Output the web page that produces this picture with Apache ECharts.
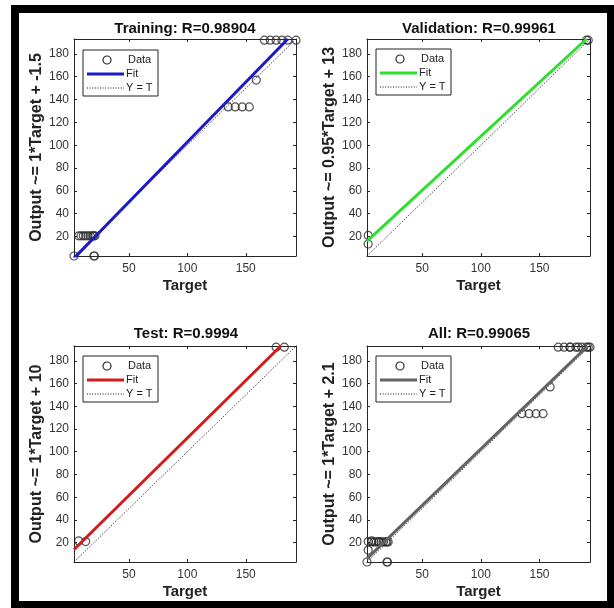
<!DOCTYPE html>
<html><head><meta charset="utf-8">
<script src="https://cdn.jsdelivr.net/npm/echarts@6/dist/echarts.min.js"></script>
<style>html,body{margin:0;padding:0;background:#fff}#c{width:614px;height:608px}</style>
</head><body><div id="c"></div>
<script>
// ---------- data ----------
const axisLimits = [3, 193];
const xTickValues = [50, 100, 150];
const yTickValues = [20, 40, 60, 80, 100, 120, 140, 160, 180];
const panelTitles = ['Training: R=0.98904', 'Validation: R=0.99961', 'Test: R=0.9994', 'All: R=0.99065'];
const yAxisNames = ['Output ~= 1*Target + -1.5', 'Output ~= 0.95*Target + 13', 'Output ~= 1*Target + 10', 'Output ~= 1*Target + 2.1'];
const xAxisName = 'Target';
const legendLabels = ['Data', 'Fit', 'Y = T'];

const trainingData = [
  [3, 3], [20, 3], [20.5, 3],
  [7, 20.7], [9, 20.7], [11, 20.7], [13, 20.7], [15, 20.7], [17, 20.7], [19, 20.7], [20, 20.7], [21, 20.7],
  [135, 133.5], [141, 133.5], [147, 133.5], [153, 133.5],
  [159, 157],
  [166, 192], [171, 192], [176, 192], [181, 192], [186, 192], [193, 192]
];
const validationData = [[4, 21], [4, 13.5], [190, 192], [191.5, 192]];
const testData = [[7, 21.5], [13, 21], [176, 192], [183, 192]];
const allData = trainingData.concat(validationData, testData);

const trainingFit = [[3, 1], [186, 193]];
const validationFit = [[3, 16], [190, 193]];
const testFit = [[3, 14], [180, 193]];
const allFit = [[3, 6], [191, 193]];
const identityLine = [[3, 3], [193, 193]];

// ---------- layout / style ----------
const FONT = '"Liberation Sans", Arial, Helvetica, sans-serif';
const AX = '#262626';
const panels = [
  {grid: {left: 74, top: 39, width: 222, height: 217}, data: trainingData, fit: trainingFit, color: '#1a1ac8', titleX: 185, titleY: 21, legend: [83, 50]},
  {grid: {left: 367, top: 39, width: 223, height: 217}, data: validationData, fit: validationFit, color: '#2ee02e', titleX: 479, titleY: 21, legend: [376, 49]},
  {grid: {left: 74, top: 346, width: 222, height: 216}, data: testData, fit: testFit, color: '#d41a1a', titleX: 186, titleY: 326, legend: [83, 356]},
  {grid: {left: 367, top: 346, width: 223, height: 216}, data: allData, fit: allFit, color: '#626262', titleX: 479, titleY: 326, legend: [376, 356]}
];

const grids = [], xAxes = [], yAxes = [], series = [], titles = [], graphics = [];

panels.forEach((p, i) => {
  grids.push(Object.assign({outerBoundsMode: 'none', containLabel: false}, p.grid));
  titles.push({text: panelTitles[i], left: p.titleX, top: p.titleY, textAlign: 'center', padding: 0,
    textStyle: {fontFamily: FONT, fontSize: 15, fontWeight: 'bold', color: '#111'}});
  const common = {gridIndex: i, type: 'value', min: axisLimits[0], max: axisLimits[1], splitLine: {show: false},
    axisLine: {show: true, onZero: false, lineStyle: {color: AX, width: 1}}};
  xAxes.push(Object.assign({}, common, {position: 'bottom', name: xAxisName, nameLocation: 'middle', nameGap: 22,
    nameTextStyle: {fontFamily: FONT, fontSize: 15, fontWeight: 'bold', color: '#222'},
    axisTick: {show: true, inside: true, length: 3, customValues: xTickValues, lineStyle: {color: AX}},
    axisLabel: {show: true, customValues: xTickValues, margin: 7, fontFamily: FONT, fontSize: 12, color: '#333'}}));
  xAxes.push(Object.assign({}, common, {position: 'top',
    axisTick: {show: true, inside: true, length: 3, customValues: xTickValues, lineStyle: {color: AX}},
    axisLabel: {show: false}}));
  yAxes.push(Object.assign({}, common, {position: 'left', name: yAxisNames[i], nameLocation: 'middle', nameGap: 28,
    nameTextStyle: {fontFamily: FONT, fontSize: 16, fontWeight: 'bold', color: '#222'},
    axisTick: {show: true, inside: true, length: 3, customValues: yTickValues, lineStyle: {color: AX}},
    axisLabel: {show: true, customValues: yTickValues, margin: 5, fontFamily: FONT, fontSize: 12, color: '#333'}}));
  yAxes.push(Object.assign({}, common, {position: 'right',
    axisTick: {show: true, inside: true, length: 3, customValues: yTickValues, lineStyle: {color: AX}},
    axisLabel: {show: false}}));

  series.push({type: 'scatter', name: legendLabels[0], xAxisIndex: 2 * i, yAxisIndex: 2 * i, data: p.data,
    symbol: 'circle', symbolSize: 8, z: 2,
    itemStyle: {color: 'transparent', borderColor: '#2a2a2a', borderWidth: 1.2}});
  series.push({type: 'line', name: legendLabels[2], xAxisIndex: 2 * i, yAxisIndex: 2 * i, data: identityLine,
    symbol: 'none', clip: true, z: 3, lineStyle: {color: '#111', width: 1, type: [1, 1.6]}});
  series.push({type: 'line', name: legendLabels[1], xAxisIndex: 2 * i, yAxisIndex: 2 * i, data: p.fit,
    symbol: 'none', clip: true, z: 4, lineStyle: {color: p.color, width: 3}});

  // legend box (MATLAB style)
  const [lx, ly] = p.legend;
  const ts = {fontFamily: FONT, fontSize: 11, fill: '#222', verticalAlign: 'middle'};
  graphics.push({type: 'group', x: lx, y: ly, z: 100, children: [
    {type: 'rect', shape: {x: 0, y: 0, width: 75, height: 46}, style: {fill: '#fff', stroke: '#222', lineWidth: 1}},
    {type: 'circle', shape: {cx: 24, cy: 10, r: 4}, style: {fill: 'transparent', stroke: '#2a2a2a', lineWidth: 1.2}},
    {type: 'text', x: 45, y: 10, style: Object.assign({text: legendLabels[0]}, ts)},
    {type: 'line', shape: {x1: 4, y1: 24, x2: 41, y2: 24}, style: {stroke: p.color, lineWidth: 3}},
    {type: 'text', x: 43, y: 24, style: Object.assign({text: legendLabels[1]}, ts)},
    {type: 'line', shape: {x1: 4, y1: 38, x2: 41, y2: 38}, style: {stroke: '#111', lineWidth: 1, lineDash: [1, 1.6]}},
    {type: 'text', x: 43, y: 38, style: Object.assign({text: legendLabels[2]}, ts)}
  ]});
});

// outer black frame
graphics.push({type: 'rect', z: 200, shape: {x: 15, y: 9, width: 596, height: 596},
  style: {fill: 'transparent', stroke: '#000', lineWidth: 8}});

const chart = echarts.init(document.getElementById('c'), null, {renderer: 'canvas'});
chart.setOption({
  animation: false,
  backgroundColor: '#fff',
  title: titles,
  grid: grids,
  xAxis: xAxes,
  yAxis: yAxes,
  series: series,
  graphic: graphics
});
</script></body></html>
